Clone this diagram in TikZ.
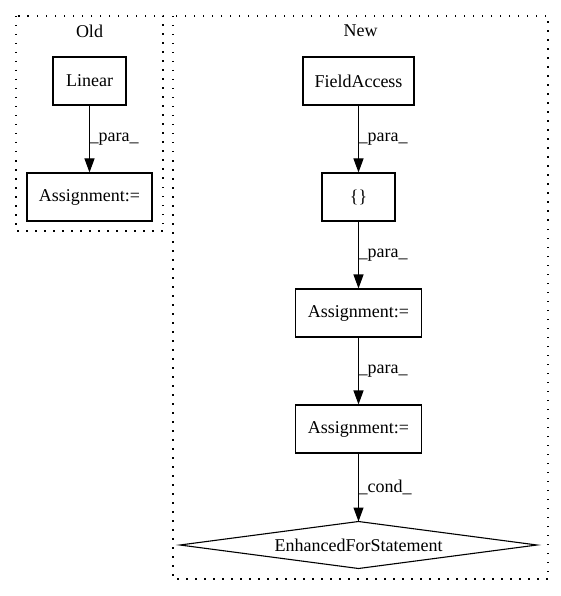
\documentclass[tikz,border=0pt]{standalone}
\usepackage{fontspec}
\setmainfont{Liberation Serif}
\usetikzlibrary{arrows.meta,shapes.geometric}
\begin{document}
\begin{tikzpicture}[x=1pt,y=-1pt,
  every node/.style={font=\fontsize{18}{21}\selectfont},
  box/.style={draw,line width=1.1,inner sep=0,minimum height=48},
  cluster/.style={draw,line width=1.1,dash pattern=on 1.5 off 7.5},
  edge/.style={line width=1.1,-{Triangle[length=14,width=10]}},
  elabel/.style={anchor=west,inner sep=0}]
\useasboundingbox (0,0) rectangle (560,596);
% clusters
\draw[cluster] (16,16) rectangle (163,231);
\node (oldtitle) at (89.5,31) {Old};
\draw[cluster] (173,16) rectangle (548,579);
\node (newtitle) at (360.5,31) {New};
% old nodes
\node[box,minimum width=73] (linear) at (89.5,81) {Linear};
\node[box,minimum width=125] (oldassign) at (89.5,197) {Assignment:=};
% new nodes
\node[box,minimum width=111] (field) at (358.5,81) {FieldAccess};
\node[box,minimum width=73] (braces) at (358.5,197) {\{\}};
\node[box,minimum width=126] (assign1) at (358.5,313) {Assignment:=};
\node[box,minimum width=126] (assign2) at (358.5,429) {Assignment:=};
\coordinate (dtop) at (358.5,521.5);
\coordinate (dbot) at (358.5,568.5);
\coordinate (dleft) at (180,545);
\coordinate (dright) at (537,545);
\draw[line width=1.1] (dtop) -- (dright) -- (dbot) -- (dleft) -- cycle;
\node (enh) at (358.5,545) {EnhancedForStatement};
% edges
\draw[edge] (linear) -- (oldassign);
\node[elabel] (l1) at (89.5,139) {\_para\_};
\draw[edge] (field) -- (braces);
\node[elabel] (l2) at (358.5,139) {\_para\_};
\draw[edge] (braces) -- (assign1);
\node[elabel] (l3) at (358.5,255) {\_para\_};
\draw[edge] (assign1) -- (assign2);
\node[elabel] (l4) at (358.5,371) {\_para\_};
\draw[edge] (assign2) -- (dtop);
\node[elabel] (l5) at (358.5,487) {\_cond\_};
\end{tikzpicture}
\end{document}
